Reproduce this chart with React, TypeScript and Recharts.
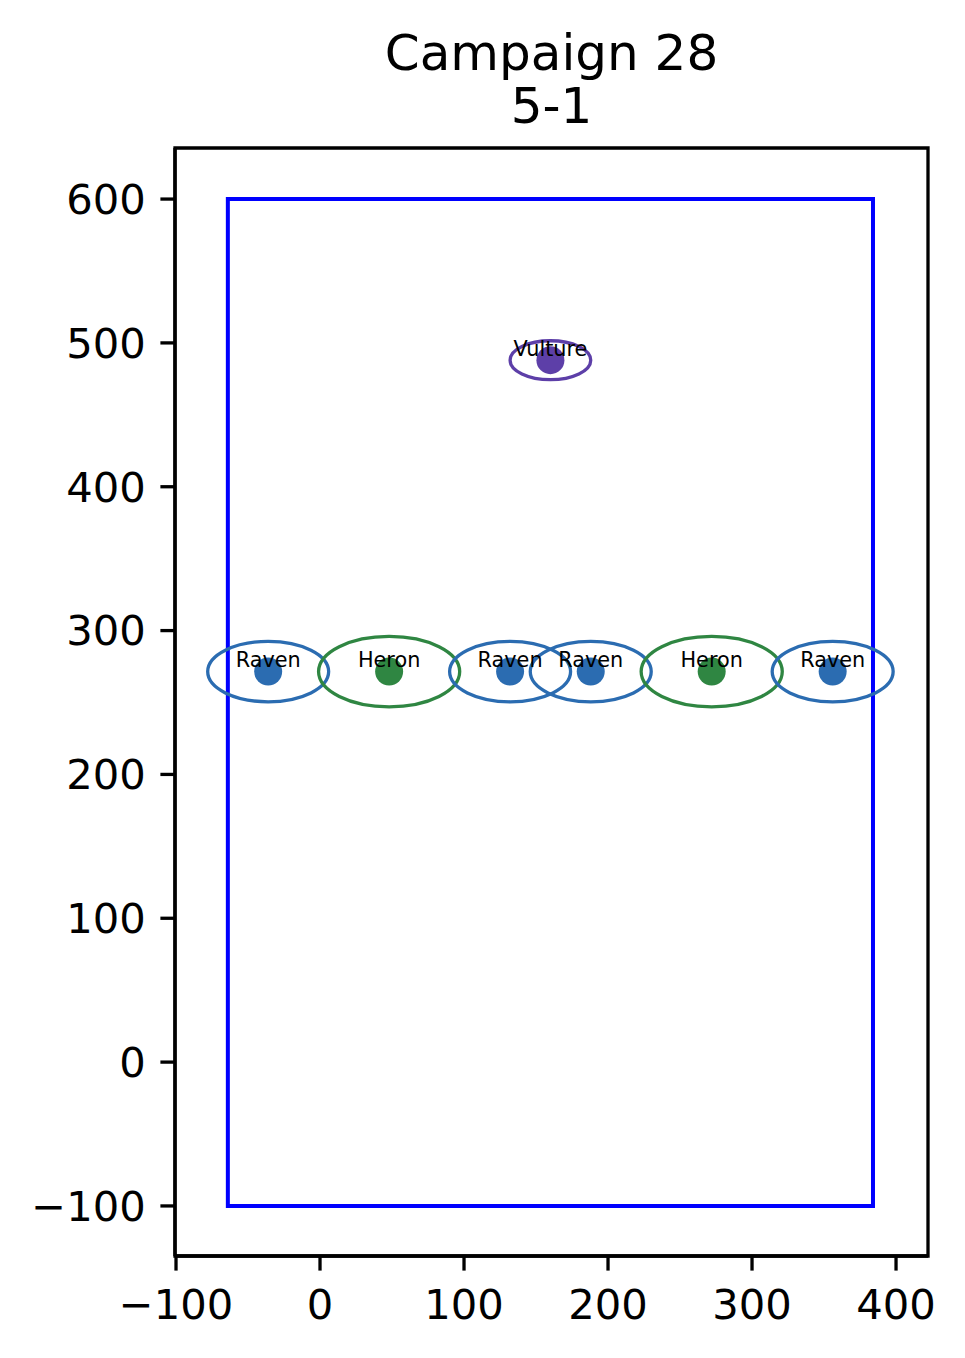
import { ScatterChart, Scatter, XAxis, YAxis, ReferenceArea } from "recharts"

const birds = ["Raven", "Heron", "Raven", "Raven", "Heron", "Raven", "Vulture"]
const xs = [-36, 48, 132, 188, 272, 356, 160]
const ys = [271.5, 271.5, 271.5, 271.5, 271.5, 271.5, 488]
// ellipse width / height in data units
const widths = [84, 98, 84, 84, 98, 84, 56]
const heights = [42, 49, 42, 42, 49, 42, 27]

const xTicks = [-100, 0, 100, 200, 300, 400]
const yTicks = [-100, 0, 100, 200, 300, 400, 500, 600]
const xDomain: [number, number] = [-100.7, 422.2]
const yDomain: [number, number] = [-134.8, 635.5]
const boundsX: [number, number] = [-64, 384]
const boundsY: [number, number] = [-100, 600]

const colors: Record<string, string> = {
  Raven: "#2b6cb1",
  Heron: "#2f8642",
  Vulture: "#5d3fa8",
}

const W = 965
const H = 1358
const M = { top: 148, right: 37, bottom: 22, left: 55 }
const Y_W = 120
const X_H = 80
const plotW = W - M.left - M.right - Y_W
const plotH = H - M.top - M.bottom - X_H
const pxX = plotW / (xDomain[1] - xDomain[0])
const pxY = plotH / (yDomain[1] - yDomain[0])

const data = birds.map((name, i) => ({
  name, x: xs[i], y: ys[i], w: widths[i], h: heights[i],
}))

const font = "'DejaVu Sans', sans-serif"
const fmt = (v: number) => String(v).replace("-", "\u2212")

function Ellipse(p: any) {
  const d = p.payload
  return (
    <ellipse cx={p.cx} cy={p.cy} rx={(d.w / 2) * pxX} ry={(d.h / 2) * pxY}
      fill="none" stroke={colors[d.name]} strokeWidth={3.3} />
  )
}

function Dot(p: any) {
  return <circle cx={p.cx} cy={p.cy} r={14} fill={colors[p.payload.name]} />
}

function Label(p: any) {
  return (
    <text x={p.cx} y={p.cy - 4.5} textAnchor="middle" fontSize={20.8}
      fontFamily={font} fill="#000">{p.payload.name}</text>
  )
}

export default function App() {
  const tick = { fontSize: 41.7, fill: "#000", fontFamily: font }
  return (
    <div style={{ position: "absolute", left: 0, top: 0, width: W, height: H, background: "#fff" }}>
      <svg width={W} height={H} style={{ position: "absolute", left: 0, top: 0 }}>
        <text x={551.5} y={70} textAnchor="middle" fontSize={50} fontFamily={font}>Campaign 28</text>
        <text x={551.5} y={123} textAnchor="middle" fontSize={50} fontFamily={font}>5-1</text>
      </svg>
      <div style={{ position: "absolute", left: 0, top: 0 }}>
        <ScatterChart width={W} height={H} margin={M}>
          <XAxis type="number" dataKey="x" domain={xDomain} ticks={xTicks}
            allowDataOverflow height={X_H} tickFormatter={fmt} tick={tick}
            tickSize={14.6} tickMargin={19}
            axisLine={{ stroke: "#000", strokeWidth: 3.3 }}
            tickLine={{ stroke: "#000", strokeWidth: 3.3 }} />
          <YAxis type="number" dataKey="y" domain={yDomain} ticks={yTicks}
            allowDataOverflow width={Y_W} tickFormatter={fmt} tick={tick}
            tickSize={14.6} tickMargin={14.6}
            axisLine={{ stroke: "#000", strokeWidth: 3.3 }}
            tickLine={{ stroke: "#000", strokeWidth: 3.3 }} />
          <ReferenceArea x1={xDomain[0]} x2={xDomain[1]} y1={yDomain[0]} y2={yDomain[1]}
            ifOverflow="visible" fill="none" fillOpacity={0} stroke="#000" strokeWidth={3.3} />
          <ReferenceArea x1={boundsX[0]} x2={boundsX[1]} y1={boundsY[0]} y2={boundsY[1]}
            ifOverflow="visible" fill="none" fillOpacity={0} stroke="#0000ff" strokeWidth={4} />
          <Scatter data={data} shape={Dot} isAnimationActive={false} />
          <Scatter data={data} shape={Ellipse} isAnimationActive={false} />
          <Scatter data={data} shape={Label} isAnimationActive={false} />
        </ScatterChart>
      </div>
    </div>
  )
}
